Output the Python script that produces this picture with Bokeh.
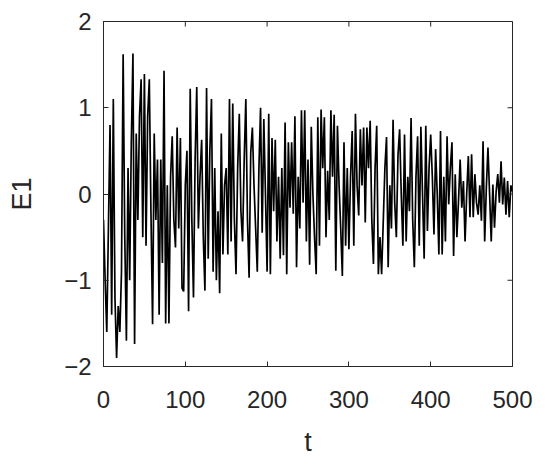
import math
from bokeh.plotting import figure
from bokeh.models import Range1d, FixedTicker
from bokeh.embed import file_html
from bokeh.resources import INLINE

# time axis (step 2) and E1 values
t = list(range(0, 501, 2))
e1 = [
    -0.3, -1.0, -1.6, -0.4, 0.8, -1.4, 1.1, -1.2, -1.9, -1.3,
    -1.6, -0.9, 1.62, -0.5, -1.7, 0.3, -1.0, 0.6, 1.63, -1.74,
    0.7, -0.3, 0.9, 1.33, -0.5, 1.39, -0.6, 0.9, 1.33, -0.2,
    -1.51, 0.7, -0.3, 0.4, -1.4, 0.4, -0.8, 1.43, -1.5, 0.1,
    -1.5, 0.2, 0.67, -0.3, -0.62, 0.77, -0.4, 0.65, -1.09, -1.13,
    0.1, 0.5, -1.36, 1.22, -0.3, -1.2, 0.4, 1.24, -0.4, 0.2,
    0.63, -0.5, -1.12, 1.23, -0.75, 0.5, 1.1, -0.9, 0.3, -1.0,
    -0.2, -1.15, 0.7, -0.7, 0.1, 0.3, -0.7, 1.1, -0.55, 1.05,
    -0.3, -0.93, 0.3, 0.93, -0.2, -0.55, 0.4, 1.10, -0.3, -0.97,
    0.48, 0.77, 0.1, -0.4, -0.9, 0.3, 1.0, -0.45, 0.87, 0.0,
    -0.9, 0.93, -0.93, 0.65, -0.2, 0.63, -0.55, 0.2, -0.75, 0.3,
    -0.71, 0.83, -0.93, 0.6, -0.16, 0.6, -0.23, 0.9, -0.85, 0.2,
    -0.4, 0.97, -0.1, 0.97, -0.55, 0.4, -0.82, 0.78, 0.0, -0.5,
    -0.93, 0.89, -0.6, 0.98, 0.3, 0.89, -0.5, 0.27, -0.3, 0.97,
    0.2, 0.92, -0.89, 0.79, 0.1, -0.4, -0.95, 0.6, -0.6, 0.3,
    -0.64, 0.2, 0.73, -0.6, 0.93, 0.1, -0.25, 0.75, 0.1, 0.77,
    -0.33, 0.77, 0.3, 0.85, -0.3, -0.81, 0.3, 0.79, -0.93, -0.5,
    -0.93, -0.32, 0.3, 0.66, -0.85, 0.1, -0.4, 0.86, -0.1, -0.5,
    0.45, 0.75, 0.0, -0.6, 0.69, -0.55, 0.2, -0.2, 0.88, -0.3,
    -0.85, 0.2, 0.67, -0.6, 0.78, 0.0, -0.75, 0.79, -0.43, 0.3,
    0.69, 0.2, -0.47, 0.52, 0.0, -0.7, 0.73, -0.7, 0.2, -0.55,
    0.67, -0.12, 0.3, 0.6, -0.72, 0.23, -0.5, -0.08, 0.4, -0.16,
    0.15, -0.55, 0.0, 0.44, -0.27, 0.46, -0.27, 0.23, -0.1, -0.24,
    0.1, -0.31, 0.61, -0.55, 0.07, 0.54, 0.0, -0.55, 0.11, -0.39,
    0.03, 0.23, -0.1, 0.38, -0.12, 0.19, -0.24, 0.15, -0.27, 0.1,
    0.03,
]
x_ticks = [0, 100, 200, 300, 400, 500]
y_ticks = [-2, -1, 0, 1, 2]
y_tick_labels = {-2: "\u22122", -1: "\u22121", 0: "0", 1: "1", 2: "2"}
x_min, x_max = 0, 500
y_min, y_max = -2, 2

FONT = "Liberation Sans"
AX = "#262626"

p = figure(
    frame_width=409, frame_height=345,
    min_border_left=103, min_border_right=30,
    min_border_top=21, min_border_bottom=94,
    x_range=Range1d(x_min, x_max), y_range=Range1d(y_min, y_max),
    output_backend="svg", toolbar_location=None,
    x_axis_label="t", y_axis_label="E1",
)
p.line(t, e1, line_color="black", line_width=1.7)

# inward tick marks on top and right edges (half of each dash is clipped)
p.scatter(x_ticks, [y_max] * len(x_ticks), marker="dash", size=10,
          angle=math.pi / 2, line_color=AX, line_width=1)
p.scatter([x_max] * len(y_ticks), y_ticks, marker="dash", size=10,
          line_color=AX, line_width=1)

p.xgrid.visible = False
p.ygrid.visible = False
p.outline_line_color = AX
p.outline_line_width = 1
p.outline_line_alpha = 1
p.background_fill_color = "white"
p.border_fill_color = "white"

for ax in p.xaxis:
    ax.ticker = FixedTicker(ticks=x_ticks)
    ax.major_label_standoff = 24
    ax.axis_label_standoff = 16
for ax in p.yaxis:
    ax.ticker = FixedTicker(ticks=y_ticks)
    ax.major_label_overrides = y_tick_labels
    ax.major_label_standoff = 12
    ax.axis_label_standoff = 24

for ax in list(p.xaxis) + list(p.yaxis):
    ax.axis_line_color = AX
    ax.major_tick_line_color = AX
    ax.major_tick_in = 5
    ax.major_tick_out = 0
    ax.minor_tick_line_color = None
    ax.major_label_text_font = FONT
    ax.major_label_text_font_size = "24px"
    ax.major_label_text_color = AX
    ax.axis_label_text_font = FONT
    ax.axis_label_text_font_size = "27px"
    ax.axis_label_text_font_style = "normal"
    ax.axis_label_text_color = AX

open("out.html", "w").write(file_html(p, INLINE))
